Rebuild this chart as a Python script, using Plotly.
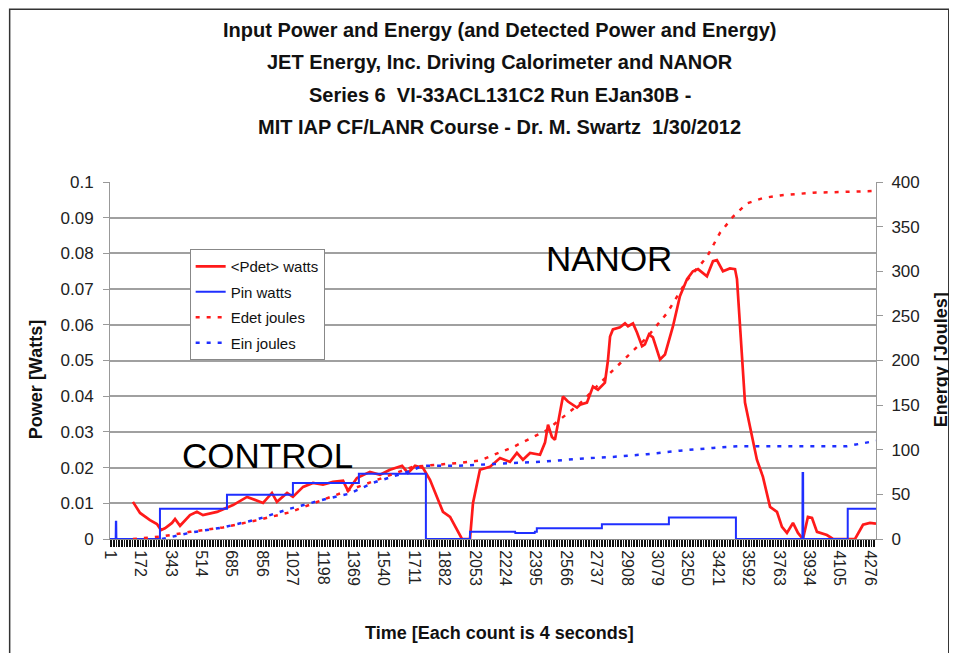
import plotly.graph_objects as go

# ---------------- data ----------------
# x = time count (each count is 4 s)
pdet_x = [130, 170, 226, 265, 288, 310, 350, 367, 395, 451, 490, 524, 603, 659, 693, 772,
          862, 912, 940, 997, 1030, 1087, 1143, 1199, 1255, 1312, 1340, 1390, 1463, 1520,
          1576, 1644, 1677, 1717, 1762, 1801, 1840, 1874, 1914, 1953, 1981, 2026, 2043,
          2082, 2138, 2195, 2251, 2290, 2324, 2364, 2420, 2448, 2465, 2487, 2504, 2532,
          2549, 2577, 2628, 2645, 2684, 2718, 2746, 2785, 2802, 2814, 2830, 2870, 2898,
          2915, 2943, 2965, 2994, 3010, 3033, 3055, 3095, 3123, 3168, 3207, 3247, 3280,
          3309, 3359, 3393, 3415, 3449, 3488, 3517, 3528, 3545, 3562, 3573, 3601, 3640,
          3674, 3714, 3753, 3781, 3809, 3843, 3871, 3899, 3927, 3950, 3978, 4034, 4068,
          4192, 4237, 4276, 4310]
pdet_w = [0.0104, 0.0073, 0.0053, 0.0042, 0.0025, 0.0030, 0.0045, 0.0056, 0.0037, 0.0067,
          0.0076, 0.0067, 0.0076, 0.0087, 0.0095, 0.0118, 0.0101, 0.0129, 0.0104, 0.0129,
          0.0118, 0.0146, 0.0157, 0.0152, 0.0160, 0.0163, 0.0135, 0.0171, 0.0188, 0.0180,
          0.0194, 0.0205, 0.0185, 0.0205, 0.0199, 0.0166, 0.0118, 0.0076, 0.0062, 0.0025,
          0.0, 0.0, 0.0101, 0.0194, 0.0202, 0.0227, 0.0216, 0.0241, 0.0222, 0.0241, 0.0236,
          0.0270, 0.0320, 0.0286, 0.0278, 0.0354, 0.0399, 0.0385, 0.0368, 0.0376, 0.0382,
          0.0427, 0.0418, 0.0438, 0.0500, 0.0567, 0.0587, 0.0593, 0.0604, 0.0596, 0.0604,
          0.0579, 0.0540, 0.0545, 0.0573, 0.0565, 0.0503, 0.0517, 0.0596, 0.0680, 0.0728,
          0.0750, 0.0756, 0.0736, 0.0778, 0.0781, 0.0750, 0.0758, 0.0756, 0.0728, 0.0587,
          0.0475, 0.0382, 0.0315, 0.0222, 0.0174, 0.0090, 0.0076, 0.0034, 0.0017, 0.0045,
          0.0017, 0.0, 0.0062, 0.0059, 0.0020, 0.0011, 0.0, 0.0, 0.0040, 0.0045, 0.0043]

pin_x = [1, 33, 34, 36, 37, 282, 282, 659, 659, 1030, 1030, 1401, 1401, 1778, 1778, 2026,
         2026, 2280, 2281, 2390, 2391, 2402, 2402, 2768, 2768, 3145, 3145, 3522, 3522,
         3896, 3897, 3900, 3901, 4151, 4151, 4310]
pin_w = [0.0, 0.0, 0.0048, 0.0048, 0.0, 0.0, 0.0085, 0.0085, 0.0124, 0.0124, 0.0157,
         0.0157, 0.0183, 0.0183, 0.0, 0.0, 0.0020, 0.0020, 0.0017, 0.0017, 0.0020, 0.0020,
         0.0030, 0.0030, 0.0041, 0.0041, 0.0060, 0.0060, 0.0, 0.0, 0.0185, 0.0185, 0.0,
         0.0, 0.0085, 0.0085]

edet_x = [130, 299, 451, 637, 828, 1014, 1199, 1390, 1576, 1705, 1953, 2082, 2268, 2459,
          2645, 2830, 3022, 3134, 3247, 3359, 3432, 3505, 3584, 3674, 3770, 3955, 4147, 4310]
edet_j = [0, 3, 8, 13, 21, 30, 44, 58, 72, 81, 85, 88, 103, 122, 152, 189, 226, 253, 290,
          316, 343, 361, 376, 382, 385, 388, 389, 390]

ein_x = [293, 451, 637, 828, 1014, 1199, 1351, 1480, 1672, 1762, 1953, 2268, 2459, 2645,
         2830, 3022, 3207, 3393, 3545, 4147, 4310]
ein_j = [0, 7, 13, 22, 34, 44, 51, 63, 75, 82, 82, 85, 87, 90, 92, 95, 99, 102, 104, 104, 110]

x_ticks = list(range(1, 4277, 171))
x_ticktext = [str(v) for v in x_ticks]
power_ticks = [0, 0.01, 0.02, 0.03, 0.04, 0.05, 0.06, 0.07, 0.08, 0.09, 0.1]
power_ticktext = ["0", "0.01", "0.02", "0.03", "0.04", "0.05", "0.06", "0.07", "0.08", "0.09", "0.1"]
energy_ticks = [0, 50, 100, 150, 200, 250, 300, 350, 400]

title_lines = [
    "Input Power and Energy (and Detected Power and Energy)",
    "JET Energy, Inc. Driving Calorimeter and NANOR",
    "Series 6  VI-33ACL131C2 Run EJan30B -",
    "MIT IAP CF/LANR Course - Dr. M. Swartz  1/30/2012",
]

# ---------------- figure ----------------
RED = "#ff1a1a"
BLUE = "#1f2fff"
SANS = "Liberation Sans, Arial, sans-serif"
X_RANGE = [1, 4310]

fig = go.Figure()
fig.add_trace(go.Scatter(x=pdet_x, y=pdet_w, mode="lines", name="&lt;Pdet&gt; watts",
                         line=dict(color=RED, width=2.7), legendgroup="a"))
fig.add_trace(go.Scatter(x=pin_x, y=pin_w, mode="lines", name="Pin watts",
                         line=dict(color=BLUE, width=2), legendgroup="b"))
fig.add_trace(go.Scatter(x=edet_x, y=edet_j, mode="lines", name="Edet joules", yaxis="y2",
                         line=dict(color=RED, width=2.5, dash="4px,7px"), legendgroup="c"))
fig.add_trace(go.Scatter(x=ein_x, y=ein_j, mode="lines", name="Ein joules", yaxis="y2",
                         line=dict(color=BLUE, width=2.5, dash="4px,7px"), legendgroup="d"))
# invisible carrier trace so the labelled overlay axis is drawn
fig.add_trace(go.Scatter(x=[X_RANGE[0], X_RANGE[1]], y=[0, 0], xaxis="x2", mode="lines",
                         line=dict(width=0), showlegend=False, hoverinfo="skip"))

annotations = []
title_y = [1.426, 1.336, 1.244, 1.154]
for txt, yy in zip(title_lines, title_y):
    annotations.append(dict(text="<b>" + txt + "</b>", xref="paper", yref="paper", x=0.509, y=yy,
                            showarrow=False, xanchor="center", yanchor="middle",
                            font=dict(family=SANS, size=20, color="#111")))
annotations.append(dict(text="NANOR", xref="paper", yref="paper", x=0.651, y=0.787,
                        showarrow=False, xanchor="center", yanchor="middle",
                        font=dict(family=SANS, size=35, color="black")))
annotations.append(dict(text="CONTROL", xref="paper", yref="paper", x=0.206, y=0.235,
                        showarrow=False, xanchor="center", yanchor="middle",
                        font=dict(family=SANS, size=35, color="black")))
annotations.append(dict(text="<b>Time [Each count is 4 seconds]</b>", xref="paper", yref="paper",
                        x=0.509, y=-0.262, showarrow=False, xanchor="center", yanchor="middle",
                        font=dict(family=SANS, size=18, color="#111")))
annotations.append(dict(text="<b>Power [Watts]</b>", xref="paper", yref="paper",
                        x=-0.0966, y=0.445, textangle=-90, showarrow=False,
                        xanchor="center", yanchor="middle",
                        font=dict(family=SANS, size=18, color="#111")))
annotations.append(dict(text="<b>Energy [Joules]</b>", xref="paper", yref="paper",
                        x=1.086, y=0.503, textangle=-90, showarrow=False,
                        xanchor="center", yanchor="middle",
                        font=dict(family=SANS, size=18, color="#111")))

fig.update_layout(
    width=957, height=653,
    margin=dict(l=102, r=89, t=174, b=122),
    paper_bgcolor="white", plot_bgcolor="white",
    font=dict(family=SANS, color="#222"),
    showlegend=True,
    legend=dict(x=0.104, y=0.812, xanchor="left", yanchor="top",
                bgcolor="white", bordercolor="#888", borderwidth=1, itemwidth=30,
                font=dict(family=SANS, size=15, color="#111"), tracegroupgap=3),
    # primary x axis: dense category tick marks, no labels
    xaxis=dict(range=X_RANGE, tickmode="linear", tick0=1, dtick=9,
               showticklabels=False, showgrid=False, zeroline=False, showline=True,
               linecolor="#888", ticks="outside", ticklen=7, tickcolor="#111", tickwidth=1),
    # overlay x axis: the labelled ticks every 171 counts
    xaxis2=dict(range=X_RANGE, overlaying="x", anchor="y", side="bottom",
                tickmode="array", tickvals=x_ticks, ticktext=x_ticktext,
                tickangle=90, tickfont=dict(family=SANS, size=16, color="#222"),
                ticks="outside", ticklen=7, tickcolor="#111",
                showgrid=False, zeroline=False, showline=False),
    yaxis=dict(range=[0, 0.1], tickmode="array", tickvals=power_ticks, ticktext=power_ticktext,
               tickfont=dict(family=SANS, size=17, color="#222"),
               showgrid=True, gridcolor="#a0a0a0", gridwidth=1.5, zeroline=False,
               showline=True, linecolor="#999", ticks="outside", ticklen=6, tickcolor="#999",
               ticklabelstandoff=6),
    yaxis2=dict(range=[0, 400], overlaying="y", side="right", tickmode="array",
                tickvals=energy_ticks, tickfont=dict(family=SANS, size=17, color="#222"),
                showgrid=False, zeroline=False, showline=True, linecolor="#999",
                ticks="outside", ticklen=6, tickcolor="#999", ticklabelstandoff=5),
    annotations=annotations,
    shapes=[dict(type="rect", xref="paper", yref="paper", x0=-0.131, x1=1.095, y0=-0.34, y1=1.484,
                 line=dict(color="#333", width=1.5), fillcolor="rgba(0,0,0,0)", layer="below")],
)

fig.write_html("out.html")
